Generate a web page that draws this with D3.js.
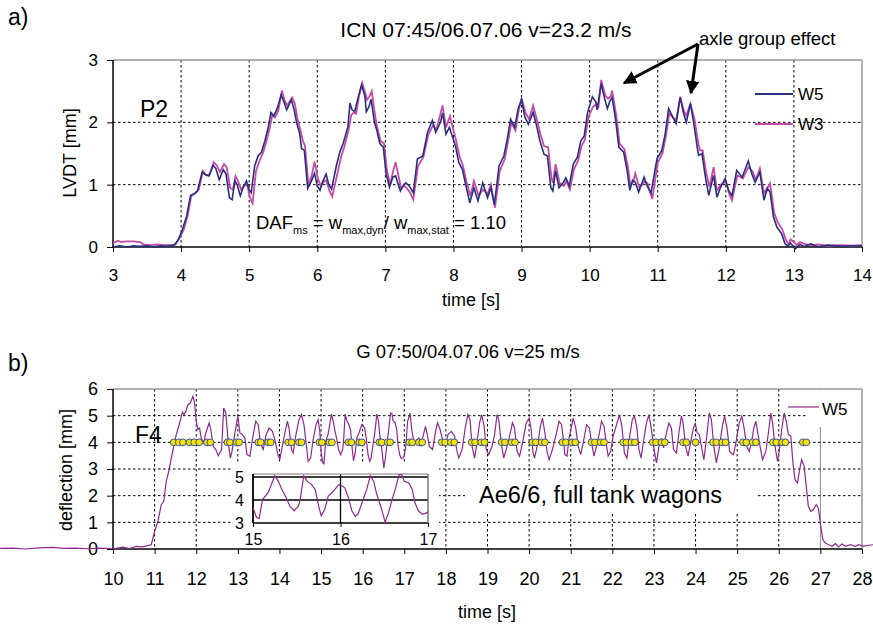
<!DOCTYPE html>
<html>
<head>
<meta charset="utf-8">
<script src="https://cdn.jsdelivr.net/npm/d3@7"></script>
<style>
  body { margin: 0; background: #fff; }
  svg { display: block; font-family: "Liberation Sans", Arial, sans-serif; }
</style>
</head>
<body>
<svg width="873" height="625"></svg>
<script>
// ---- data (time [s], value [mm]) ----
const w5Top = [[3.00,0.00],[3.10,0.02],[3.20,0.00],[3.30,0.02],[3.40,0.01],[3.50,0.02],[3.60,0.00],[3.70,0.02],[3.80,0.01],[3.90,0.03],
  [3.96,0.12],[4.01,0.25],[4.08,0.49],[4.14,0.83],[4.20,0.86],[4.24,0.90],[4.31,1.20],[4.36,1.16],[4.41,1.14],[4.47,1.31],[4.51,1.26],[4.56,1.08],[4.62,1.24],[4.66,1.17],[4.71,0.79],[4.75,0.76],[4.79,1.06],[4.82,1.01],[4.87,0.82],[4.91,0.95],[4.96,1.06],[5.00,0.92],[5.03,0.87],
  [5.08,1.30],[5.13,1.46],[5.18,1.52],[5.23,1.70],[5.28,1.92],[5.32,2.16],[5.36,2.10],[5.41,2.22],[5.47,2.44],[5.51,2.33],[5.55,2.20],[5.62,2.36],[5.66,2.20],[5.70,1.98],[5.74,1.83],[5.77,1.58],[5.81,1.55],[5.86,0.94],[5.91,1.05],[5.96,1.18],[6.00,0.98],[6.04,0.91],[6.08,1.05],[6.13,1.17],[6.17,1.00],[6.21,0.93],
  [6.28,1.30],[6.33,1.52],[6.38,1.66],[6.45,1.93],[6.48,2.31],[6.51,2.20],[6.55,2.17],[6.60,2.40],[6.65,2.60],[6.70,2.42],[6.72,2.17],[6.76,2.25],[6.79,2.37],[6.84,2.00],[6.87,1.89],[6.92,1.66],[6.97,1.60],[7.01,1.18],[7.06,0.96],[7.11,1.12],[7.15,1.14],[7.22,0.90],[7.27,1.00],[7.30,1.03],[7.35,0.98],[7.41,0.87],
  [7.47,1.41],[7.55,1.46],[7.62,1.84],[7.69,2.03],[7.74,1.84],[7.81,2.00],[7.84,2.15],[7.89,1.81],[7.94,1.92],[8.03,1.62],[8.08,1.35],[8.13,1.25],[8.18,1.00],[8.24,0.71],[8.30,0.95],[8.36,0.74],[8.43,1.03],[8.50,0.79],[8.55,0.95],[8.60,0.68],
  [8.67,1.30],[8.74,1.46],[8.79,1.73],[8.84,2.05],[8.90,1.92],[8.95,2.22],[9.00,2.36],[9.05,2.08],[9.10,1.97],[9.17,2.16],[9.22,1.95],[9.27,1.70],[9.33,1.49],[9.38,1.46],[9.43,0.95],[9.46,0.90],[9.50,1.22],[9.55,0.95],[9.61,1.03],[9.65,1.11],[9.70,0.98],
  [9.76,1.33],[9.82,1.44],[9.87,1.70],[9.92,1.78],[9.97,2.16],[10.04,2.41],[10.09,2.33],[10.11,2.20],[10.17,2.62],[10.22,2.38],[10.26,2.22],[10.30,2.35],[10.33,2.40],[10.38,2.05],[10.43,1.60],[10.50,1.52],[10.55,1.23],[10.59,0.91],[10.63,1.07],[10.67,1.04],[10.72,0.88],[10.80,1.12],[10.84,0.99],[10.90,0.86],
  [10.99,1.42],[11.06,1.55],[11.11,1.82],[11.16,2.22],[11.21,2.11],[11.27,1.98],[11.33,2.40],[11.38,2.14],[11.42,2.00],[11.48,2.30],[11.53,1.98],[11.58,1.60],[11.60,1.47],[11.65,1.50],[11.70,1.12],[11.75,0.83],[11.82,1.15],[11.87,0.80],[11.92,0.95],[11.99,1.10],[12.04,0.91],[12.09,0.82],
  [12.16,1.23],[12.24,1.12],[12.33,1.38],[12.38,1.18],[12.43,1.04],[12.50,1.20],[12.56,0.75],[12.61,0.94],[12.65,0.88],[12.70,0.48],[12.75,0.32],[12.82,0.21],[12.87,0.05],[12.91,0.01],[12.95,0.06],[13.02,-0.03],[13.09,0.04],[13.15,0.01],[13.25,0.05],[13.35,0.00],[13.50,0.03],[13.70,0.01],[13.85,0.02],[14.00,0.02]];

const w3Top = [[3.00,0.06],[3.07,0.10],[3.12,0.08],[3.20,0.09],[3.30,0.09],[3.40,0.08],[3.45,0.04],[3.55,0.03],[3.65,0.04],[3.75,0.03],[3.85,0.03],[3.92,0.04],
  [3.98,0.15],[4.04,0.28],[4.10,0.52],[4.15,0.82],[4.21,0.86],[4.26,0.92],[4.32,1.22],[4.37,1.15],[4.42,1.17],[4.48,1.36],[4.53,1.30],[4.57,1.20],[4.63,1.33],[4.67,1.28],[4.72,0.95],[4.76,0.92],[4.80,1.14],[4.84,1.05],[4.88,0.92],[4.92,0.98],[4.97,1.00],[5.01,0.80],[5.05,0.70],
  [5.10,1.22],[5.15,1.38],[5.20,1.50],[5.25,1.68],[5.30,1.90],[5.34,2.12],[5.38,2.08],[5.43,2.20],[5.48,2.51],[5.52,2.35],[5.56,2.27],[5.63,2.40],[5.67,2.30],[5.71,2.05],[5.75,1.88],[5.79,1.70],[5.82,1.62],[5.87,0.99],[5.92,1.15],[5.96,1.37],[6.01,1.10],[6.05,0.98],[6.10,1.05],[6.13,1.07],[6.18,0.90],[6.22,0.81],
  [6.30,1.20],[6.35,1.45],[6.40,1.62],[6.46,1.88],[6.50,2.12],[6.53,2.15],[6.57,2.14],[6.61,2.40],[6.66,2.63],[6.71,2.45],[6.73,2.36],[6.77,2.42],[6.80,2.50],[6.85,2.10],[6.88,1.92],[6.93,1.70],[6.98,1.66],[7.02,1.25],[7.07,1.00],[7.11,1.20],[7.15,1.36],[7.23,0.95],[7.28,0.98],[7.31,0.95],[7.36,0.88],[7.41,0.76],
  [7.48,1.30],[7.56,1.45],[7.63,1.80],[7.70,1.95],[7.75,1.88],[7.80,2.10],[7.84,2.27],[7.89,1.92],[7.95,2.10],[8.04,1.70],[8.09,1.45],[8.14,1.30],[8.19,1.05],[8.25,0.82],[8.30,1.06],[8.37,0.82],[8.43,0.92],[8.50,0.85],[8.55,1.00],[8.61,0.63],
  [8.68,1.22],[8.75,1.40],[8.80,1.68],[8.85,2.00],[8.91,1.87],[8.96,2.20],[9.00,2.39],[9.06,2.15],[9.11,2.05],[9.17,2.27],[9.23,2.02],[9.28,1.80],[9.33,1.62],[9.39,1.60],[9.44,1.10],[9.46,1.03],[9.50,1.33],[9.56,1.02],[9.62,0.98],[9.66,1.06],[9.71,0.92],
  [9.77,1.25],[9.83,1.38],[9.88,1.62],[9.93,1.72],[9.98,2.08],[10.05,2.25],[10.10,2.30],[10.13,2.25],[10.17,2.68],[10.23,2.43],[10.27,2.38],[10.31,2.42],[10.33,2.51],[10.39,2.12],[10.44,1.66],[10.51,1.57],[10.56,1.30],[10.60,0.98],[10.64,1.05],[10.67,1.18],[10.73,0.95],[10.81,1.05],[10.85,1.02],[10.92,0.77],
  [11.00,1.35],[11.07,1.50],[11.12,1.78],[11.17,2.14],[11.22,2.08],[11.27,2.03],[11.33,2.41],[11.38,2.20],[11.42,2.11],[11.48,2.30],[11.54,2.05],[11.59,1.70],[11.62,1.55],[11.66,1.55],[11.71,1.20],[11.76,0.96],[11.82,1.28],[11.87,0.91],[11.93,1.00],[12.00,1.05],[12.05,0.85],[12.09,0.75],
  [12.17,1.15],[12.25,1.10],[12.33,1.28],[12.39,1.22],[12.44,1.08],[12.50,1.26],[12.56,0.86],[12.61,0.95],[12.65,1.02],[12.71,0.55],[12.76,0.40],[12.83,0.28],[12.88,0.12],[12.92,0.04],[12.95,0.12],[13.00,0.08],[13.04,0.03],[13.09,0.08],[13.15,0.05],[13.25,0.03],[13.35,0.04],[13.50,0.02],[13.70,0.03],[13.85,0.02],[14.00,0.03]];

const w5Bottom = [[7.28,0.02],[7.60,0.03],[7.90,0.00],[8.20,0.04],[8.56,0.06],[8.80,0.02],[9.10,0.03],[9.40,0.01],[9.70,0.03],[10.00,0.01],[10.24,0.07],[10.40,0.02],[10.56,0.10],[10.70,0.08],[10.80,0.12],[10.92,0.16],
  [11.00,0.66],[11.08,1.04],[11.16,1.66],[11.22,1.79],[11.28,2.54],[11.35,2.98],[11.40,3.41],[11.46,3.85],[11.52,4.29],[11.59,4.66],[11.67,5.13],[11.71,5.04],[11.75,5.16],[11.80,5.41],[11.86,5.48],[11.92,5.73],[11.96,5.48],[12.00,4.79],[12.04,4.48],[12.08,4.54],[12.12,4.16],[12.18,3.98],[12.23,4.35],[12.31,4.73],[12.35,4.48],[12.41,3.85],[12.47,3.73],[12.53,3.50],[12.61,3.73],
  [12.66,5.29],[12.71,5.10],[12.77,3.98],[12.82,3.41],[12.86,3.66],[12.93,4.35],[13.00,4.98],[13.05,4.35],[13.11,4.29],[13.17,4.16],[13.22,3.54],[13.29,3.48],[13.35,4.10],[13.43,4.79],[13.49,4.66],[13.54,3.98],[13.61,3.73],[13.67,4.23],[13.75,4.54],[13.83,4.41],[13.89,4.10],[13.97,3.48],[14.01,3.38],
  [14.07,3.85],[14.13,4.35],[14.19,4.79],[14.23,4.54],[14.29,3.73],[14.33,3.60],[14.39,4.23],[14.47,4.85],[14.53,5.04],[14.59,4.66],[14.64,3.98],[14.69,3.29],[14.75,3.41],[14.81,4.10],[14.88,4.66],[14.93,4.85],[14.97,4.40],
  [15.00,3.67],[15.04,3.24],[15.07,3.20],[15.11,4.03],[15.17,4.31],[15.21,4.67],[15.25,5.06],[15.29,4.81],[15.33,4.46],[15.38,4.10],[15.42,3.74],[15.47,3.53],[15.52,3.74],[15.54,4.03],[15.58,5.06],[15.62,4.81],[15.67,4.67],[15.71,4.46],[15.75,3.74],[15.78,3.31],[15.82,3.60],[15.86,4.17],[15.92,4.39],[15.98,4.67],
  [16.01,4.63],[16.05,4.53],[16.09,4.10],[16.13,3.53],[16.17,3.29],[16.20,3.39],[16.26,4.03],[16.30,4.46],[16.34,5.06],[16.38,4.81],[16.41,4.31],[16.47,3.60],[16.51,3.03],[16.55,3.46],[16.59,4.03],[16.63,4.53],[16.67,5.10],[16.70,5.10],[16.73,4.81],[16.78,4.74],[16.82,4.46],[16.85,3.89],[16.89,3.53],[16.93,3.39],[16.97,3.41],[17.00,3.49],
  [17.04,3.91],[17.08,4.79],[17.14,5.10],[17.18,4.48],[17.24,3.91],[17.28,4.04],[17.35,4.16],[17.40,3.85],[17.44,4.16],[17.51,4.60],[17.56,4.23],[17.60,3.85],[17.68,3.73],[17.76,4.48],[17.80,4.73],[17.86,4.48],[17.92,4.10],[17.99,3.85],[18.05,4.29],[18.13,4.41],[18.21,4.23],[18.26,3.73],[18.31,3.41],[18.39,3.73],
  [18.47,4.60],[18.53,5.04],[18.58,4.85],[18.63,3.85],[18.69,3.41],[18.74,3.91],[18.81,4.73],[18.86,5.04],[18.92,4.60],[18.97,3.73],[19.03,3.54],[19.11,3.85],[19.17,4.29],[19.23,5.04],[19.27,4.85],[19.33,3.98],[19.39,3.41],[19.45,3.73],[19.52,4.16],[19.60,4.73],[19.65,4.54],[19.71,3.66],[19.77,3.48],[19.85,4.04],
  [19.93,4.73],[20.00,4.91],[20.05,4.48],[20.09,3.66],[20.13,3.41],[20.22,4.04],[20.27,4.60],[20.32,4.91],[20.38,4.35],[20.43,3.66],[20.48,3.35],[20.56,3.73],[20.64,4.23],[20.72,4.79],[20.78,4.66],[20.82,4.16],[20.86,3.54],[20.91,3.48],[20.96,4.16],[21.02,4.60],[21.06,4.91],[21.12,4.54],[21.18,3.85],[21.24,3.54],
  [21.30,3.98],[21.38,4.66],[21.45,4.54],[21.50,3.98],[21.56,3.48],[21.62,3.85],[21.69,4.35],[21.74,4.79],[21.80,4.60],[21.85,3.98],[21.90,3.48],[21.96,3.66],[22.02,4.23],[22.10,4.66],[22.17,5.04],[22.23,4.60],[22.29,3.60],[22.35,3.41],[22.41,4.16],[22.48,4.85],[22.53,4.98],[22.59,4.54],[22.64,3.73],[22.69,3.41],
  [22.75,4.04],[22.82,4.73],[22.88,5.04],[22.94,4.48],[22.99,3.85],[23.06,3.23],[23.12,3.85],[23.18,4.16],[23.23,3.79],[23.30,4.35],[23.36,4.73],[23.42,4.54],[23.47,3.73],[23.54,3.60],[23.60,4.35],[23.66,4.98],[23.70,4.73],[23.76,3.85],[23.82,3.48],[23.88,3.98],[23.94,4.48],[23.99,4.73],[24.04,4.35],[24.09,4.29],
  [24.14,3.85],[24.20,3.35],[24.26,4.10],[24.33,5.10],[24.38,4.85],[24.44,3.85],[24.50,3.23],[24.57,3.79],[24.65,4.66],[24.70,4.98],[24.76,4.48],[24.82,3.66],[24.91,3.54],[24.97,3.98],[25.05,4.73],[25.11,4.98],[25.16,4.60],[25.23,3.85],[25.29,3.66],[25.35,4.04],[25.40,4.54],[25.45,4.79],[25.49,4.41],[25.55,3.85],
  [25.61,3.35],[25.69,3.66],[25.75,4.35],[25.81,5.10],[25.85,4.73],[25.91,3.85],[25.97,3.29],[26.01,3.66],[26.07,4.48],[26.13,5.10],[26.18,4.79],[26.23,4.29],[26.29,4.23],[26.34,3.23],[26.39,2.60],[26.45,2.48],[26.50,2.98],[26.55,3.35],[26.61,3.10],[26.66,2.35],[26.71,1.60],[26.77,1.41],[26.83,1.48],[26.90,1.66],[26.95,1.54],
  [27.01,0.85],[27.06,0.35],[27.12,0.22],[27.20,0.16],[27.28,0.10],[27.36,0.20],[27.44,0.08],[27.52,0.19],[27.60,0.10],[27.72,0.16],[27.84,0.10],[27.92,0.16],[28.04,0.10],[28.16,0.14],[28.27,0.16]];

// axle positions passing F4 (drawn on the 4 mm line)
const axles = [11.46,11.58,11.68,11.84,11.95,12.07,12.26,12.34,12.75,12.81,12.97,13.03,13.49,13.55,13.73,13.79,14.21,14.29,14.47,14.53,
  14.96,15.02,15.20,15.26,15.66,15.73,15.92,15.98,16.40,16.46,16.60,16.66,17.12,17.19,17.35,17.43,17.90,17.98,18.12,18.20,
  18.62,18.70,18.85,18.93,19.34,19.42,19.58,19.66,20.08,20.16,20.30,20.38,20.80,20.88,21.03,21.11,21.50,21.58,21.72,21.80,
  22.26,22.34,22.46,22.54,22.97,23.05,23.18,23.26,23.70,23.78,24.00,24.42,24.50,24.64,24.72,25.14,25.22,25.37,25.45,25.86,25.94,26.08,26.16,26.58,26.66];

const xTicksTop = d3.range(3, 15);
const yTicksTop = [0, 1, 2, 3];
const xTicksBottom = d3.range(10, 29);
const yTicksBottom = [0, 1, 2, 3, 4, 5, 6];
const xTicksInset = [15, 16, 17];
const yTicksInset = [3, 4, 5];

const svg = d3.select('svg');

// scales
const xA = d3.scaleLinear().domain([3, 14]).range([113, 862]);
const yA = d3.scaleLinear().domain([0, 3]).range([247, 60]);
const xB = d3.scaleLinear().domain([10, 28]).range([113, 862]);
const yB = d3.scaleLinear().domain([0, 6]).range([549, 389]);
const xI = d3.scaleLinear().domain([15, 17]).range([253, 428]);
const yI = d3.scaleLinear().domain([3, 5]).range([523, 477]);

const navy = '#283080', pink = '#c84aa6', purple = '#8e2a8e';

function dashGrid(g, x1, x2, y1, y2) {
    g.append('line').attr('x1', x1).attr('x2', x2).attr('y1', y1).attr('y2', y2)
        .attr('stroke', '#000').attr('stroke-width', 1).attr('stroke-dasharray', '2.5,2.5');
}

function styleAxis(g, size) {
    g.select('.domain').remove();
    g.selectAll('.tick line').attr('stroke', '#000');
    g.selectAll('.tick text').attr('font-size', size).attr('fill', '#000')
        .attr('font-family', '"Liberation Sans", Arial, sans-serif');
}

// ================= a) =================
const gTop = svg.append('g');
xTicksTop.filter(d => d > 3 && d < 14).forEach(d => dashGrid(gTop, xA(d), xA(d), yA(3), yA(0)));
[1, 2].forEach(d => dashGrid(gTop, xA(3), xA(14), yA(d), yA(d)));
gTop.append('line').attr('x1', xA(3)).attr('x2', xA(14)).attr('y1', yA(3)).attr('y2', yA(3)).attr('stroke', '#999').attr('stroke-width', 1.5);
gTop.append('line').attr('x1', xA(14)).attr('x2', xA(14)).attr('y1', yA(3)).attr('y2', yA(0)).attr('stroke', '#999').attr('stroke-width', 1.5);

const axA = gTop.append('g').attr('transform', `translate(0,${yA(0)})`)
    .call(d3.axisBottom(xA).tickValues(xTicksTop).tickSize(5).tickSizeOuter(0).tickFormat(d3.format('d')));
styleAxis(axA, 17);
axA.selectAll('.tick text').attr('y', 28).attr('dy', '0.35em');
const ayA = gTop.append('g').attr('transform', `translate(${xA(3)},0)`)
    .call(d3.axisLeft(yA).tickValues(yTicksTop).tickSize(6).tickSizeOuter(0).tickFormat(d3.format('d')));
styleAxis(ayA, 17);
ayA.selectAll('.tick text').attr('x', -15);
gTop.append('line').attr('x1', xA(3)).attr('x2', xA(14)).attr('y1', yA(0)).attr('y2', yA(0)).attr('stroke', '#000').attr('stroke-width', 1.5);
gTop.append('line').attr('x1', xA(3)).attr('x2', xA(3)).attr('y1', yA(3)).attr('y2', yA(0)).attr('stroke', '#000').attr('stroke-width', 1.5);

const lineA = d3.line().x(d => xA(d[0])).y(d => yA(d[1]));
gTop.append('path').datum(w3Top).attr('d', lineA).attr('fill', 'none').attr('stroke', pink).attr('stroke-width', 1.8);
gTop.append('path').datum(w5Top).attr('d', lineA).attr('fill', 'none').attr('stroke', navy).attr('stroke-width', 1.6);

// legend a)
[[navy, 'W5', 94], [pink, 'W3', 124]].forEach(([c, t, y]) => {
    gTop.append('line').attr('x1', 755).attr('x2', 793).attr('y1', y).attr('y2', y).attr('stroke', c).attr('stroke-width', 2);
    gTop.append('text').attr('x', 798).attr('y', y + 6).attr('font-size', 17).text(t);
});

gTop.append('text').attr('x', 8).attr('y', 25).attr('font-size', 23).text('a)');
gTop.append('text').attr('x', 486).attr('y', 37).attr('text-anchor', 'middle').attr('font-size', 21)
    .text('ICN 07:45/06.07.06 v=23.2 m/s');
gTop.append('text').attr('x', 140).attr('y', 117).attr('font-size', 23).text('P2');
gTop.append('text').attr('transform', 'translate(76,153) rotate(-90)').attr('text-anchor', 'middle')
    .attr('font-size', 18).text('LVDT [mm]');
gTop.append('text').attr('x', 471).attr('y', 306).attr('text-anchor', 'middle').attr('font-size', 18).text('time [s]');

const daf = gTop.append('text').attr('x', 256).attr('y', 229).attr('font-size', 18.5);
daf.append('tspan').text('DAF');
daf.append('tspan').attr('font-size', 11).attr('dy', 5).text('ms');
daf.append('tspan').attr('dy', -5).text(' = w');
daf.append('tspan').attr('font-size', 11).attr('dy', 5).text('max,dyn');
daf.append('tspan').attr('dy', -5).text('/ w');
daf.append('tspan').attr('font-size', 11).attr('dy', 5).text('max,stat');
daf.append('tspan').attr('dy', -5).text(' = 1.10');

// annotation arrows
svg.append('defs').append('marker').attr('id', 'head').attr('viewBox', '0 0 10 10')
    .attr('refX', 9).attr('refY', 5).attr('markerWidth', 4.5).attr('markerHeight', 4.5)
    .attr('orient', 'auto').attr('markerUnits', 'strokeWidth')
    .append('path').attr('d', 'M0,0 L10,5 L0,10 z').attr('fill', '#000');
[[624, 83], [691, 93]].forEach(([x, y]) => {
    gTop.append('line').attr('x1', 698).attr('y1', 44).attr('x2', x).attr('y2', y)
        .attr('stroke', '#000').attr('stroke-width', 3).attr('marker-end', 'url(#head)');
});
gTop.append('text').attr('x', 699).attr('y', 45).attr('font-size', 18.5).text('axle group effect');

// ================= b) =================
const gBot = svg.append('g');
xTicksBottom.filter(d => d > 10 && d < 27).forEach(d => dashGrid(gBot, xB(d), xB(d), yB(6), yB(0)));
gBot.append('line').attr('x1', xB(27)).attr('x2', xB(27)).attr('y1', yB(6)).attr('y2', yB(0)).attr('stroke', '#888').attr('stroke-width', 1);
[1, 2, 3, 4, 5].forEach(d => dashGrid(gBot, xB(10), xB(28), yB(d), yB(d)));
gBot.append('line').attr('x1', xB(10)).attr('x2', xB(28)).attr('y1', yB(6)).attr('y2', yB(6)).attr('stroke', '#999').attr('stroke-width', 1.5);
gBot.append('line').attr('x1', xB(28)).attr('x2', xB(28)).attr('y1', yB(6)).attr('y2', yB(0)).attr('stroke', '#999').attr('stroke-width', 1.5);

// white boxes hiding the grid: inset, label, legend
gBot.append('rect').attr('x', 232).attr('y', 462).attr('width', 207).attr('height', 86).attr('fill', '#fff');
gBot.append('rect').attr('x', 465).attr('y', 480).attr('width', 293).attr('height', 32).attr('fill', '#fff');
gBot.append('rect').attr('x', 808).attr('y', 390).attr('width', 53).attr('height', 37).attr('fill', '#fff');

const axB = gBot.append('g').attr('transform', `translate(0,${yB(0)})`)
    .call(d3.axisBottom(xB).tickValues(xTicksBottom).tickSize(5).tickSizeOuter(0).tickFormat(d3.format('d')));
styleAxis(axB, 18);
axB.selectAll('.tick text').attr('y', 30).attr('dy', '0.35em');
const ayB = gBot.append('g').attr('transform', `translate(${xB(10)},0)`)
    .call(d3.axisLeft(yB).tickValues(yTicksBottom).tickSize(6).tickSizeOuter(0).tickFormat(d3.format('d')));
styleAxis(ayB, 18);
ayB.selectAll('.tick text').attr('x', -15);
gBot.append('line').attr('x1', xB(10)).attr('x2', xB(28)).attr('y1', yB(0)).attr('y2', yB(0)).attr('stroke', '#000').attr('stroke-width', 1.5);
gBot.append('line').attr('x1', xB(10)).attr('x2', xB(10)).attr('y1', yB(6)).attr('y2', yB(0)).attr('stroke', '#000').attr('stroke-width', 1.5);

const lineB = d3.line().x(d => xB(d[0])).y(d => yB(d[1]));
gBot.append('path').datum(w5Bottom).attr('d', lineB).attr('fill', 'none').attr('stroke', purple).attr('stroke-width', 1.2);

gBot.selectAll('circle.axle').data(axles).join('circle').attr('class', 'axle')
    .attr('cx', d => xB(d)).attr('cy', yB(4)).attr('r', 3.4)
    .attr('fill', '#f4e400').attr('stroke', '#3b52a3').attr('stroke-width', 1);

// legend b)
gBot.append('line').attr('x1', 788).attr('x2', 819).attr('y1', 407).attr('y2', 407).attr('stroke', purple).attr('stroke-width', 1.2);
gBot.append('text').attr('x', 822).attr('y', 415).attr('font-size', 17).text('W5');

gBot.append('text').attr('x', 8).attr('y', 371).attr('font-size', 23).text('b)');
gBot.append('text').attr('x', 468).attr('y', 358).attr('text-anchor', 'middle').attr('font-size', 18.5)
    .text('G 07:50/04.07.06 v=25 m/s');
gBot.append('text').attr('x', 135).attr('y', 443).attr('font-size', 23).text('F4');
gBot.append('text').attr('transform', 'translate(72,470) rotate(-90)').attr('text-anchor', 'middle')
    .attr('font-size', 18).text('deflection [mm]');
gBot.append('text').attr('x', 487).attr('y', 618).attr('text-anchor', 'middle').attr('font-size', 18).text('time [s]');
gBot.append('text').attr('x', 479).attr('y', 503).attr('font-size', 23.5).text('Ae6/6, full tank wagons');

// inset 15-17 s
const ins = svg.append('g');
yTicksInset.forEach(d => ins.append('line').attr('x1', xI(15)).attr('x2', xI(17)).attr('y1', yI(d)).attr('y2', yI(d)).attr('stroke', '#000').attr('stroke-width', 1.3));
ins.append('line').attr('x1', xI(16)).attr('x2', xI(16)).attr('y1', 474).attr('y2', yI(3)).attr('stroke', '#000').attr('stroke-width', 1.3);
ins.append('line').attr('x1', xI(15)).attr('x2', xI(17)).attr('y1', 474).attr('y2', 474).attr('stroke', '#aaa').attr('stroke-width', 1.5);
ins.append('line').attr('x1', xI(17)).attr('x2', xI(17)).attr('y1', 474).attr('y2', yI(3)).attr('stroke', '#777').attr('stroke-width', 1.5);
ins.append('line').attr('x1', xI(15)).attr('x2', xI(15)).attr('y1', 474).attr('y2', yI(3)).attr('stroke', '#000').attr('stroke-width', 1.8);
const axI = ins.append('g').attr('transform', `translate(0,${yI(3)})`)
    .call(d3.axisBottom(xI).tickValues(xTicksInset).tickSize(4).tickSizeOuter(0).tickFormat(d3.format('d')));
styleAxis(axI, 16);
axI.selectAll('.tick text').attr('y', 16).attr('dy', '0.35em');
const ayI = ins.append('g').attr('transform', `translate(${xI(15)},0)`)
    .call(d3.axisLeft(yI).tickValues(yTicksInset).tickSize(0).tickFormat(d3.format('d')));
styleAxis(ayI, 16);
ayI.selectAll('.tick text').attr('x', -9);
const lineI = d3.line().x(d => xI(d[0])).y(d => yI(d[1]));
ins.append('path').datum(w5Bottom.filter(d => d[0] >= 15 && d[0] <= 17)).attr('d', lineI)
    .attr('fill', 'none').attr('stroke', purple).attr('stroke-width', 1.2);
</script>
</body>
</html>
